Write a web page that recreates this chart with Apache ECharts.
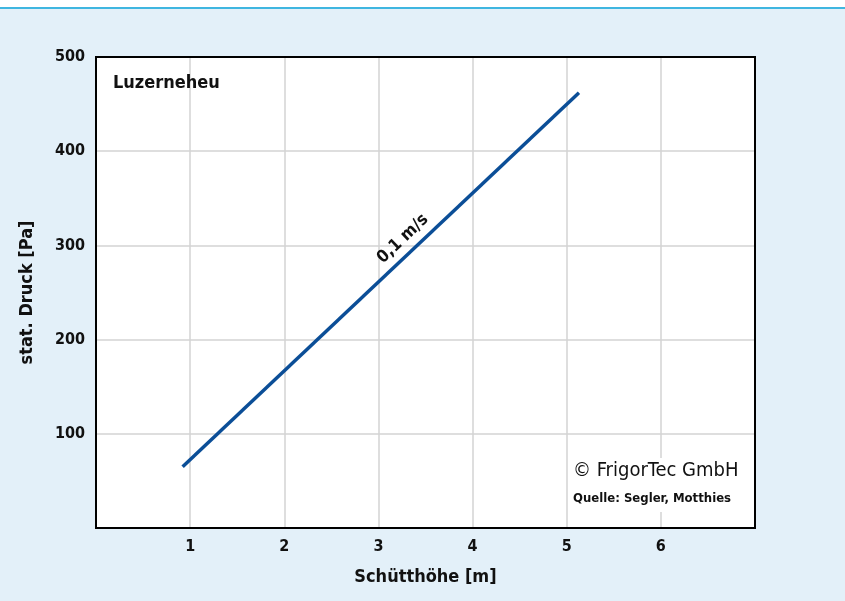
<!DOCTYPE html>
<html><head><meta charset="utf-8">
<script src="https://cdn.jsdelivr.net/npm/echarts@6/dist/echarts.min.js"></script>
<style>html,body{margin:0;padding:0;background:#fff}#c{width:845px;height:601px}</style>
</head><body><div id="c"></div>
<script>
const xValues = [0.92, 5.13];
const yValues = [65, 462];
const xTicks = [1, 2, 3, 4, 5, 6];
const yTicks = [100, 200, 300, 400, 500];
const lineLabel = '0,1 m/s';
const labelPos = [3.26, 307];
const title = 'Luzerneheu';
const xName = 'Schütthöhe [m]';
const yName = 'stat. Druck [Pa]';

const F = '"DejaVu Sans Condensed", "Liberation Sans Narrow", "Roboto", sans-serif';
const chart = echarts.init(document.getElementById('c'));
chart.setOption({
  backgroundColor: '#e3f0f9',
  animation: false,
  grid: {left: 96, right: 90, top: 57, bottom: 73, show: true, backgroundColor: '#fff', borderWidth: 0},
  xAxis: {
    type: 'value', min: 0, max: 7, interval: 1,
    name: xName, nameLocation: 'middle', nameGap: 40,
    nameTextStyle: {fontFamily: F, fontSize: 18, fontWeight: 'bold', color: '#111'},
    axisLine: {show: false}, axisTick: {show: false},
    axisLabel: {fontFamily: F, fontSize: 16, fontWeight: 'bold', color: '#111', margin: 11,
      formatter: v => xTicks.includes(v) ? String(v) : ''},
    splitLine: {lineStyle: {color: '#d3d3d3', width: 1.5}}
  },
  yAxis: {
    type: 'value', min: 0, max: 500, interval: 100,
    name: yName, nameLocation: 'middle', nameGap: 60,
    nameTextStyle: {fontFamily: F, fontSize: 18, fontWeight: 'bold', color: '#111'},
    axisLine: {show: false}, axisTick: {show: false},
    axisLabel: {fontFamily: F, fontSize: 16, fontWeight: 'bold', color: '#111', margin: 11,
      formatter: v => yTicks.includes(v) ? String(v) : ''},
    splitLine: {lineStyle: {color: '#d3d3d3', width: 1.5}}
  },
  graphic: [
    {type: 'rect', left: 0, top: 7, shape: {width: 845, height: 2}, style: {fill: '#3fb6e0'}},
    {type: 'rect', left: 0, top: 0, shape: {width: 845, height: 7}, style: {fill: '#fff'}},
    {type: 'rect', x: 568, y: 458, z: 90, shape: {x: 0, y: 0, width: 178, height: 54}, style: {fill: '#fff'}},
    {type: 'rect', x: 96, y: 57, z: 100, shape: {x: 0, y: 0, width: 659, height: 471}, style: {fill: 'none', stroke: '#000', lineWidth: 2}},
    {type: 'text', left: 113, top: 74, z: 95, style: {text: title, font: 'bold 18px ' + F, fill: '#111'}},
    {type: 'text', left: 573, top: 461, z: 95, style: {text: '© FrigorTec GmbH', font: '20px ' + F, fill: '#111'}},
    {type: 'text', left: 573, top: 492, z: 95, style: {text: 'Quelle: Segler, Motthies', font: 'bold 13px ' + F, fill: '#111'}}
  ],
  series: [
    {type: 'line', data: xValues.map((x, i) => [x, yValues[i]]), symbol: 'none',
     lineStyle: {color: '#0b4e97', width: 3.5}},
    {type: 'scatter', data: [labelPos], symbolSize: 0, silent: true, itemStyle: {opacity: 1},
     label: {show: true, formatter: lineLabel, rotate: 43.5, fontFamily: F, fontSize: 17, fontWeight: 'bold', color: '#111', opacity: 1, position: 'inside'}}
  ]
});
</script></body></html>
